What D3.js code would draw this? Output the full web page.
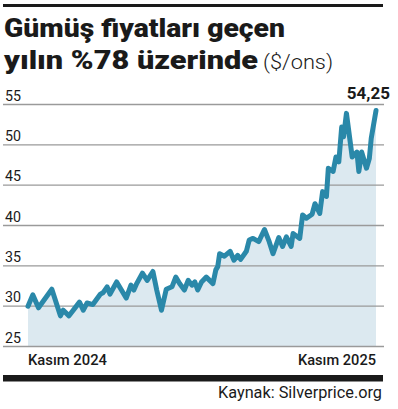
<!DOCTYPE html>
<html>
<head>
<meta charset="utf-8">
<script src="https://cdn.jsdelivr.net/npm/d3@7"></script>
<style>
  body { margin: 0; background: #fff; }
  svg { display: block; font-family: Roboto, "Noto Sans", sans-serif; }
</style>
</head>
<body>
<div id="chart"></div>
<script>
// gün: 13 Kasım 2024'ten itibaren geçen gün, fiyat: $/ons
var gun = [0, 5, 11, 25, 34, 37, 43, 54, 58, 62, 68, 76, 79, 83, 86, 93, 103, 108, 111, 114,
    120, 125, 131, 135, 140, 145, 151, 155, 159, 164, 168, 172, 175, 178, 182, 187, 194, 197, 199, 201,
    206, 212, 216, 220, 223, 229, 232, 236, 242, 248, 253, 257, 263, 267, 271, 276, 278, 285, 288, 292,
    298, 301, 306, 309, 313, 315, 320, 323, 326, 329, 331, 334, 340, 345, 347, 350, 355, 358, 360, 365];
var fiyat = [30.0, 31.4, 29.8, 32.1, 28.8, 29.5, 28.8, 30.5, 29.5, 30.4, 30.2, 31.5, 31.7, 32.4, 31.5, 33.0, 31.0, 32.6, 32.0, 32.8,
    34.1, 33.2, 34.3, 32.0, 29.5, 32.1, 32.4, 33.6, 32.8, 32.0, 33.2, 32.6, 33.0, 32.0, 33.0, 33.6, 32.8, 34.5, 34.9, 36.5,
    36.2, 36.8, 35.7, 36.3, 35.8, 36.8, 38.2, 38.4, 38.0, 39.5, 38.0, 36.5, 38.5, 37.4, 38.6, 37.4, 39.0, 38.4, 41.3, 40.9,
    41.4, 42.7, 41.5, 44.2, 43.6, 47.1, 46.7, 48.5, 47.9, 52.2, 51.0, 53.9, 48.5, 49.1, 46.7, 49.1, 47.1, 48.3, 50.8, 54.25];
var yTicks = [25, 30, 35, 40, 45, 50, 55];
var xEtiket = ["Kasım 2024", "Kasım 2025"];
var baslik1 = "Gümüş fiyatları geçen";
var baslik2 = "yılın %78 üzerinde";
var birim = "($/ons)";
var sonDeger = "54,25";
var kaynak = "Kaynak: Silverprice.org";

var baslangic = new Date(2024, 10, 13);
var data = gun.map(function (g, i) {
    return { tarih: d3.timeDay.offset(baslangic, g), deger: fiyat[i] };
});

var width = 398, height = 409;
var svg = d3.select("#chart").append("svg")
    .attr("width", width)
    .attr("height", height);

var x = d3.scaleTime()
    .domain(d3.extent(data, function (d) { return d.tarih; }))
    .range([28, 376]);
var y = d3.scaleLinear()
    .domain([25, 55])
    .range([346.5, 104.5]);

// üst çizgi
svg.append("rect").attr("x", 3).attr("y", 4).attr("width", 380).attr("height", 3).attr("fill", "#1a1a1a");

// başlık
function sigdir(sel, w) {
    sel.attr("textLength", w).attr("lengthAdjust", "spacingAndGlyphs");
}
svg.append("text")
    .attr("x", 4).attr("y", 37)
    .attr("font-size", 25).attr("font-weight", 900).attr("fill", "#1a1a1a")
    .text(baslik1)
    .call(sigdir, 281);
svg.append("text")
    .attr("x", 4).attr("y", 69)
    .attr("font-size", 25).attr("font-weight", 900).attr("fill", "#1a1a1a")
    .text(baslik2)
    .call(sigdir, 254);
svg.append("text")
    .attr("x", 263).attr("y", 69)
    .attr("font-size", 21).attr("font-weight", 300).attr("fill", "#1a1a1a")
    .text(birim)
    .call(sigdir, 70);

// alan
var area = d3.area()
    .x(function (d) { return x(d.tarih); })
    .y0(y(25))
    .y1(function (d) { return y(d.deger); });
svg.append("path")
    .datum(data)
    .attr("d", area)
    .attr("fill", "#dce9f0");

// ızgara
var grid = svg.append("g");
grid.selectAll("line")
    .data(yTicks)
    .enter().append("line")
    .attr("x1", 3).attr("x2", 384)
    .attr("y1", function (d) { return y(d); })
    .attr("y2", function (d) { return y(d); })
    .attr("stroke", "#9a9a9a")
    .attr("stroke-width", 1.3);
grid.selectAll("text")
    .data(yTicks)
    .enter().append("text")
    .attr("x", 5)
    .attr("y", function (d) { return y(d) - 4; })
    .attr("font-size", 15).attr("fill", "#1a1a1a")
    .text(function (d) { return d; })
    .call(sigdir, 16);

// çizgi
var line = d3.line()
    .x(function (d) { return x(d.tarih); })
    .y(function (d) { return y(d.deger); });
svg.append("path")
    .datum(data)
    .attr("d", line)
    .attr("fill", "none")
    .attr("stroke", "#2a88a9")
    .attr("stroke-width", 5)
    .attr("stroke-linejoin", "round")
    .attr("stroke-linecap", "round");

svg.append("text")
    .attr("x", 390).attr("y", 99)
    .attr("text-anchor", "end")
    .attr("font-size", 17).attr("font-weight", 700).attr("fill", "#1a1a1a")
    .text(sonDeger);

// x etiketleri
svg.append("text")
    .attr("x", x.range()[0]).attr("y", 365)
    .attr("font-size", 15).attr("font-weight", 500).attr("fill", "#1a1a1a")
    .text(xEtiket[0])
    .call(sigdir, 79);
svg.append("text")
    .attr("x", 298).attr("y", 365)
    .attr("font-size", 15).attr("font-weight", 500).attr("fill", "#1a1a1a")
    .text(xEtiket[1])
    .call(sigdir, 78);

// alt çizgi ve kaynak
svg.append("rect").attr("x", 3).attr("y", 375).attr("width", 380).attr("height", 6.5).attr("fill", "#1a1a1a");
svg.append("text")
    .attr("x", 218).attr("y", 398)
    .attr("font-size", 16).attr("fill", "#1a1a1a")
    .text(kaynak)
    .call(sigdir, 164);
</script>
</body>
</html>
